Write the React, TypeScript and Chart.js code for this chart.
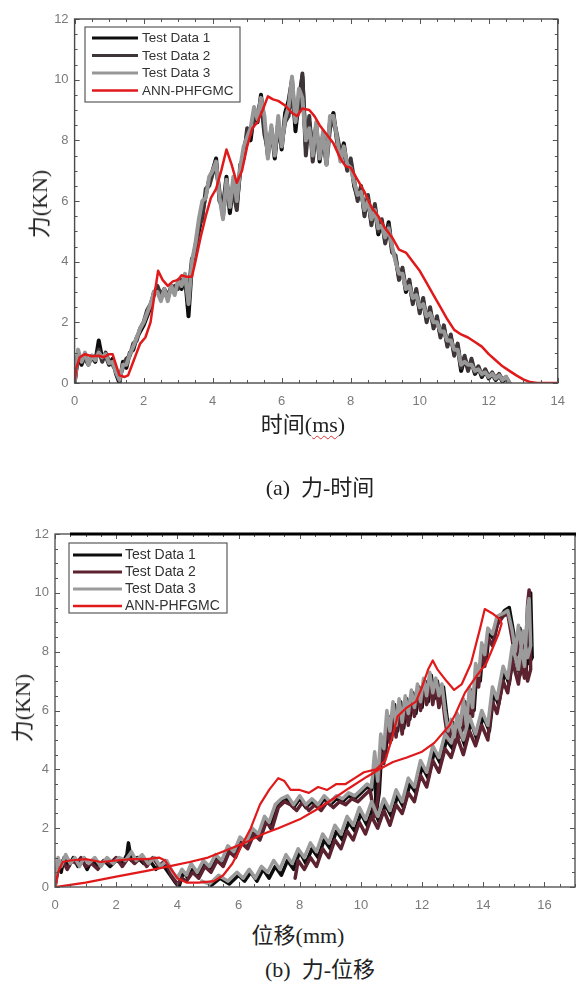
import React, { useEffect, useRef } from "react";
import { Chart, registerables } from "chart.js";

Chart.register(...registerables);

// ---------- (a) force vs time ----------
const TIME_MS = [
  0, 0.1, 0.2, 0.3, 0.4, 0.5, 0.6, 0.7, 0.8, 0.9,
  1.0, 1.1, 1.2, 1.3, 1.4, 1.5, 1.6, 1.7, 1.8, 1.9,
  2.0, 2.1, 2.2, 2.3, 2.4, 2.5, 2.6, 2.7, 2.8, 2.9,
  3.0, 3.1, 3.2, 3.3, 3.4, 3.5, 3.6, 3.7, 3.8, 3.9,
  4.0, 4.1, 4.2, 4.3, 4.4, 4.5, 4.6, 4.7, 4.8, 4.9,
  5.0, 5.1, 5.2, 5.3, 5.4, 5.5, 5.6, 5.7, 5.8, 5.9,
  6.0, 6.1, 6.2, 6.3, 6.4, 6.5, 6.6, 6.7, 6.8, 6.9,
  7.0, 7.1, 7.2, 7.3, 7.4, 7.5, 7.6, 7.7, 7.8, 7.9,
  8.0, 8.1, 8.2, 8.3, 8.4, 8.5, 8.6, 8.7, 8.8, 8.9,
  9.0, 9.1, 9.2, 9.3, 9.4, 9.5, 9.6, 9.7, 9.8, 9.9,
  10.0, 10.1, 10.2, 10.3, 10.4, 10.5, 10.6, 10.7, 10.8, 10.9,
  11.0, 11.1, 11.2, 11.3, 11.4, 11.5, 11.6, 11.7, 11.8, 11.9,
  12.0, 12.1, 12.2, 12.3, 12.4, 12.5, 12.6,
];

const FT_TEST1 = [
  0, 0.9, 0.6, 0.9, 0.7, 0.85, 0.7, 1.4, 0.8, 0.9,
  0.6, 0.8, 0.3, 0.0, 0.7, 0.5, 1.0, 1.1, 1.5, 1.7,
  1.9, 2.2, 2.5, 3.0, 3.1, 2.8, 3.0, 2.8, 3.2, 3.0,
  3.3, 3.1, 3.5, 2.2, 3.9, 4.5, 5.0, 5.6, 6.2, 6.7,
  7.0, 7.4, 6.0, 5.8, 6.8, 5.6, 6.6, 5.9, 7.0, 7.6,
  8.2, 8.0, 8.9, 8.6, 9.5, 8.5, 7.5, 8.4, 7.4, 8.6,
  7.7, 8.9, 9.3, 10.0, 8.3, 9.4, 10.1, 7.8, 8.6, 7.6,
  8.5, 7.3, 8.2, 7.4, 8.6, 8.9, 8.0, 7.4, 7.9, 7.1,
  7.3, 6.5, 6.1, 6.4, 5.6, 6.1, 5.3, 5.8, 4.9, 5.3,
  4.7, 5.3, 4.4, 4.1, 3.5, 3.7, 3.0, 3.3, 2.7, 3.0,
  2.4, 2.7, 2.1, 2.4, 1.9, 2.1, 1.6, 1.8, 1.3, 1.5,
  1.0, 1.2, 0.4, 0.8, 0.5, 0.7, 0.3, 0.5, 0.2, 0.4,
  0.15, 0.3, 0.1, 0.25, 0.05, 0.15, 0,
];

const FT_TEST2 = [
  0, 1.0, 0.7, 0.8, 0.6, 0.9, 0.8, 1.1, 0.7, 1.0,
  0.7, 0.6, 0.4, 0.2, 0.5, 0.8, 0.9, 1.3, 1.4, 1.8,
  2.0, 2.4, 2.6, 2.9, 3.2, 2.9, 3.1, 2.9, 3.1, 3.2,
  3.1, 3.4, 3.3, 3.0, 4.1, 4.3, 5.2, 5.4, 6.4, 6.5,
  6.9, 7.2, 6.3, 5.5, 6.5, 5.9, 6.3, 5.7, 7.2, 7.4,
  8.4, 8.2, 8.7, 8.9, 9.3, 8.2, 7.7, 8.2, 7.6, 8.4,
  7.9, 8.6, 8.8, 9.6, 8.6, 9.0, 10.2, 7.5, 8.8, 7.3,
  8.3, 7.6, 8.0, 7.2, 8.4, 8.7, 8.2, 7.6, 7.7, 7.0,
  7.4, 6.7, 6.0, 6.5, 5.5, 6.2, 5.2, 5.9, 5.0, 5.4,
  4.6, 5.2, 4.3, 4.2, 3.4, 3.8, 3.1, 3.4, 2.6, 3.1,
  2.3, 2.8, 2.0, 2.5, 1.8, 2.2, 1.5, 1.9, 1.2, 1.6,
  0.9, 1.3, 0.5, 0.9, 0.4, 0.8, 0.35, 0.55, 0.25, 0.45,
  0.2, 0.35, 0.15, 0.3, 0.1, 0.2, 0,
];

const FT_TEST3 = [
  0, 1.1, 0.7, 1.0, 0.6, 0.9, 0.75, 1.0, 0.85, 0.95,
  0.65, 0.7, 0.35, 0.1, 0.6, 0.6, 0.95, 1.2, 1.5, 1.8,
  2.0, 2.3, 2.6, 3.0, 3.0, 2.7, 3.1, 2.7, 3.2, 2.9,
  3.4, 3.2, 3.6, 2.6, 4.0, 4.6, 5.4, 6.0, 6.1, 6.8,
  7.0, 7.3, 6.1, 5.4, 6.7, 5.8, 6.8, 6.0, 7.1, 7.8,
  8.1, 8.4, 9.1, 8.7, 9.4, 8.8, 7.4, 8.5, 7.5, 8.8,
  7.8, 8.7, 9.1, 10.1, 8.6, 9.7, 9.4, 8.0, 8.4, 7.5,
  8.6, 7.4, 8.3, 7.2, 8.8, 8.8, 8.1, 7.3, 7.8, 7.2,
  7.1, 6.6, 6.2, 6.3, 5.7, 6.0, 5.4, 5.7, 5.1, 5.2,
  4.8, 5.1, 4.5, 4.0, 3.6, 3.6, 3.1, 3.2, 2.8, 2.9,
  2.5, 2.6, 2.2, 2.3, 2.0, 2.0, 1.7, 1.7, 1.4, 1.4,
  1.1, 1.1, 0.6, 0.7, 0.6, 0.6, 0.4, 0.45, 0.3, 0.35,
  0.2, 0.3, 0.15, 0.25, 0.1, 0.2, 0,
];

const FT_ANN: [number, number][] = [
  [0, 0], [0.05, 0.5], [0.15, 0.85], [0.3, 0.95], [0.5, 0.88], [0.7, 0.9], [0.85, 0.85],
  [1.0, 0.95], [1.1, 0.95], [1.2, 0.6], [1.3, 0.25], [1.45, 0.2], [1.55, 0.25], [1.65, 0.55],
  [1.8, 1.0], [1.9, 1.3], [2.05, 1.5], [2.2, 2.0], [2.3, 2.8], [2.42, 3.7], [2.55, 3.4],
  [2.7, 3.2], [2.85, 3.35], [3.0, 3.4], [3.1, 3.55], [3.25, 3.5], [3.4, 3.5], [3.5, 4.0],
  [3.65, 4.8], [3.8, 5.5], [3.95, 6.1], [4.1, 6.4], [4.25, 7.0], [4.4, 7.7], [4.55, 7.2],
  [4.7, 6.6], [4.85, 7.0], [5.0, 7.8], [5.15, 8.4], [5.3, 8.6], [5.45, 9.0], [5.6, 9.45],
  [5.75, 9.35], [5.9, 9.3], [6.1, 9.15], [6.3, 8.9], [6.45, 8.8], [6.6, 9.05], [6.8, 9.0],
  [6.95, 8.8], [7.1, 8.5], [7.3, 8.2], [7.5, 7.9], [7.7, 7.4], [7.85, 7.15], [8.0, 7.1],
  [8.2, 6.7], [8.4, 6.3], [8.6, 5.8], [8.8, 5.5], [9.0, 5.1], [9.2, 4.8], [9.4, 4.4],
  [9.6, 4.3], [9.8, 4.0], [10.0, 3.7], [10.2, 3.3], [10.4, 2.9], [10.6, 2.5], [10.8, 2.1],
  [11.0, 1.75], [11.2, 1.6], [11.4, 1.5], [11.6, 1.35], [11.8, 1.2], [12.0, 0.95], [12.2, 0.75],
  [12.4, 0.55], [12.6, 0.4], [12.8, 0.25], [13.0, 0.12], [13.2, 0.03], [13.4, 0], [14, 0],
];

// ---------- (b) force vs displacement ----------
const FD_TEST1: [number, number][] = [
  [0, 0], [0.1, 0.8], [0.2, 0.5], [0.3, 1.0], [0.45, 0.7], [0.6, 1.0], [0.75, 0.7], [0.9, 0.9],
  [1.05, 0.6], [1.2, 0.9], [1.4, 0.7], [1.6, 0.9], [1.8, 0.7], [2.0, 0.9], [2.2, 0.8], [2.35, 1.1],
  [2.4, 1.5], [2.5, 0.9], [2.7, 1.0], [2.9, 0.8], [3.1, 0.9], [3.3, 0.6], [3.5, 0.8], [3.7, 0.5],
  [3.9, 0.2], [4.05, 0.0], [4.2, 0.5], [4.35, 0.3], [4.5, 0.6], [4.7, 0.4], [4.9, 0.8], [5.1, 0.6],
  [5.3, 1.0], [5.5, 0.8], [5.7, 1.3], [5.9, 1.1], [6.1, 1.6], [6.3, 1.4], [6.5, 1.9], [6.7, 1.7],
  [6.9, 2.3], [7.05, 2.0], [7.2, 2.6], [7.4, 2.9], [7.6, 3.0], [7.8, 2.7], [8.0, 3.0], [8.2, 2.7],
  [8.4, 2.9], [8.6, 2.7], [8.8, 3.0], [9.0, 2.8], [9.2, 3.0], [9.4, 2.9], [9.6, 3.1], [9.8, 3.0],
  [10.0, 3.2], [10.2, 3.4], [10.35, 3.3], [10.45, 4.3], [10.5, 2.5], [10.6, 3.2], [10.7, 5.0],
  [10.8, 4.4], [10.9, 5.8], [11.0, 5.0], [11.1, 6.2], [11.2, 5.3], [11.3, 6.3], [11.4, 5.4],
  [11.5, 6.4], [11.6, 5.7], [11.7, 6.6], [11.8, 5.9], [11.9, 6.8], [12.0, 6.1], [12.1, 7.0],
  [12.2, 6.3], [12.3, 7.2], [12.4, 6.4], [12.5, 7.0], [12.6, 6.3], [12.7, 6.8], [12.8, 5.9],
  [12.9, 5.1], [13.0, 5.6], [13.1, 4.9], [13.2, 5.8], [13.3, 5.3], [13.4, 6.3], [13.5, 5.3],
  [13.6, 6.7], [13.7, 6.0], [13.8, 7.5], [13.9, 7.0], [14.0, 8.2], [14.1, 7.7], [14.2, 8.7],
  [14.35, 8.4], [14.5, 9.1], [14.7, 9.4], [14.85, 9.5], [15.0, 8.6], [15.1, 7.9], [15.2, 8.8],
  [15.3, 7.9], [15.4, 7.3], [15.5, 9.8], [15.55, 10.0], [15.6, 7.8],
  [15.5, 7.6], [15.35, 8.5], [15.2, 7.2], [15.0, 8.0], [14.85, 6.9], [14.7, 7.3], [14.5, 6.2],
  [14.35, 6.6], [14.2, 5.3], [14.0, 5.8], [13.8, 5.0], [13.6, 5.6], [13.4, 4.8], [13.2, 5.4],
  [13.0, 4.7], [12.8, 5.0], [12.6, 4.2], [12.4, 4.6], [12.2, 3.7], [12.0, 4.1], [11.8, 3.2],
  [11.6, 3.5], [11.4, 2.7], [11.2, 3.1], [11.0, 2.4], [10.8, 2.8], [10.6, 2.2], [10.4, 2.7],
  [10.2, 2.1], [10.0, 2.5], [9.8, 1.9], [9.6, 2.2], [9.4, 1.6], [9.2, 1.9], [9.0, 1.3],
  [8.8, 1.6], [8.6, 1.0], [8.4, 1.3], [8.2, 0.8], [8.0, 1.2], [7.8, 0.6], [7.6, 0.9], [7.4, 0.4],
  [7.2, 0.7], [7.0, 0.3], [6.8, 0.6], [6.6, 0.2], [6.4, 0.5], [6.2, 0.2], [6.0, 0.4], [5.7, 0.1],
  [5.4, 0.3], [5.1, 0.05],
];

const FD_TEST2: [number, number][] = [
  [0, 0], [0.1, 0.6], [0.25, 0.9], [0.4, 0.6], [0.55, 0.9], [0.7, 0.8], [0.85, 1.0], [1.0, 0.7],
  [1.2, 0.8], [1.4, 0.6], [1.6, 0.9], [1.8, 0.8], [2.0, 1.0], [2.2, 0.7], [2.4, 1.0], [2.6, 0.8],
  [2.8, 1.0], [3.0, 0.7], [3.2, 1.0], [3.4, 0.7], [3.6, 0.9], [3.8, 0.4], [4.0, 0.1], [4.15, 0.3],
  [4.3, 0.2], [4.5, 0.5], [4.7, 0.3], [4.9, 0.7], [5.1, 0.5], [5.3, 0.9], [5.5, 0.7], [5.7, 1.2],
  [5.9, 1.0], [6.1, 1.5], [6.3, 1.3], [6.5, 1.8], [6.7, 1.6], [6.9, 2.2], [7.1, 2.0], [7.3, 2.7],
  [7.5, 2.9], [7.7, 2.8], [7.9, 2.6], [8.1, 2.9], [8.3, 2.6], [8.5, 2.8], [8.7, 2.6], [8.9, 2.9],
  [9.1, 2.7], [9.3, 2.9], [9.5, 2.8], [9.7, 3.0], [9.9, 2.9], [10.1, 3.1], [10.3, 3.3],
  [10.45, 2.4], [10.55, 3.0], [10.65, 4.6], [10.75, 4.2], [10.85, 5.5], [10.95, 4.9], [11.05, 6.0],
  [11.15, 5.1], [11.25, 6.1], [11.35, 5.2], [11.45, 6.2], [11.55, 5.5], [11.65, 6.4], [11.75, 5.8],
  [11.85, 6.6], [11.95, 6.0], [12.05, 6.9], [12.15, 6.2], [12.25, 7.0], [12.35, 6.2], [12.45, 6.9],
  [12.55, 6.1], [12.65, 6.6], [12.75, 5.7], [12.85, 5.0], [12.95, 5.4], [13.05, 4.8], [13.15, 5.6],
  [13.25, 5.1], [13.35, 6.1], [13.45, 5.1], [13.55, 6.5], [13.65, 5.8], [13.75, 7.2], [13.85, 6.8],
  [13.95, 8.0], [14.05, 7.5], [14.15, 8.5], [14.3, 8.2], [14.45, 8.9], [14.65, 9.2], [14.8, 9.3],
  [14.95, 8.4], [15.05, 7.7], [15.15, 8.6], [15.25, 7.7], [15.35, 7.1], [15.45, 9.6], [15.5, 10.1],
  [15.55, 7.4],
  [15.45, 7.0], [15.3, 8.2], [15.15, 6.9], [14.95, 7.7], [14.8, 6.6], [14.65, 7.0], [14.45, 5.9],
  [14.3, 6.3], [14.15, 5.0], [13.95, 5.5], [13.75, 4.8], [13.55, 5.3], [13.35, 4.5], [13.15, 5.1],
  [12.95, 4.4], [12.75, 4.7], [12.55, 3.9], [12.35, 4.3], [12.15, 3.4], [11.95, 3.8], [11.75, 2.9],
  [11.55, 3.2], [11.35, 2.5], [11.15, 2.8], [10.95, 2.1], [10.75, 2.6], [10.55, 2.0], [10.35, 2.4],
  [10.15, 1.8], [9.95, 2.2], [9.75, 1.6], [9.55, 1.9], [9.35, 1.3], [9.15, 1.6], [8.95, 1.0],
  [8.75, 1.3], [8.55, 0.7], [8.35, 1.0], [8.15, 0.6], [7.95, 0.9], [7.85, 0.3],
];

const FD_TEST3: [number, number][] = [
  [0, 0], [0.1, 1.0], [0.2, 0.7], [0.35, 1.1], [0.5, 0.8], [0.65, 1.0], [0.8, 0.7], [0.95, 1.0],
  [1.1, 0.8], [1.3, 1.0], [1.5, 0.7], [1.7, 1.0], [1.9, 0.8], [2.1, 1.0], [2.3, 0.9], [2.5, 1.2],
  [2.65, 0.9], [2.85, 1.1], [3.05, 0.8], [3.25, 1.0], [3.45, 0.7], [3.65, 0.9], [3.85, 0.5],
  [4.0, 0.3], [4.15, 0.6], [4.3, 0.4], [4.45, 0.8], [4.65, 0.5], [4.85, 0.9], [5.05, 0.7],
  [5.25, 1.1], [5.45, 0.9], [5.65, 1.4], [5.85, 1.2], [6.05, 1.7], [6.25, 1.5], [6.45, 2.0],
  [6.65, 1.8], [6.85, 2.4], [7.0, 2.2], [7.2, 2.8], [7.4, 3.0], [7.6, 3.1], [7.8, 2.8], [8.0, 3.1],
  [8.2, 2.8], [8.4, 3.0], [8.6, 2.8], [8.8, 3.1], [9.0, 2.9], [9.2, 3.1], [9.4, 3.0], [9.6, 3.2],
  [9.8, 3.1], [10.0, 3.3], [10.2, 3.5], [10.35, 3.4], [10.45, 4.6], [10.55, 3.6], [10.65, 5.2],
  [10.75, 4.7], [10.85, 6.0], [10.95, 5.3], [11.05, 6.3], [11.15, 5.5], [11.25, 6.4], [11.35, 5.6],
  [11.45, 6.5], [11.55, 5.9], [11.65, 6.7], [11.75, 6.1], [11.85, 6.9], [11.95, 6.3], [12.05, 7.1],
  [12.15, 6.5], [12.25, 7.3], [12.35, 6.6], [12.45, 7.1], [12.55, 6.5], [12.65, 6.9], [12.75, 6.0],
  [12.85, 5.3], [12.95, 5.7], [13.05, 5.1], [13.15, 5.9], [13.25, 5.5], [13.35, 6.4], [13.45, 5.5],
  [13.55, 6.8], [13.65, 6.1], [13.75, 7.6], [13.85, 7.2], [13.95, 8.3], [14.05, 7.9], [14.15, 8.8],
  [14.3, 8.6], [14.45, 9.2], [14.65, 9.3], [14.8, 9.4], [14.95, 8.7], [15.05, 8.0], [15.15, 8.9],
  [15.25, 8.1], [15.35, 7.5], [15.45, 9.5], [15.5, 9.8], [15.55, 8.2],
  [15.45, 7.8], [15.3, 8.7], [15.15, 7.4], [14.95, 8.2], [14.8, 7.1], [14.65, 7.5], [14.45, 6.4],
  [14.3, 6.8], [14.15, 5.5], [13.95, 6.0], [13.75, 5.2], [13.55, 5.8], [13.35, 5.0], [13.15, 5.6],
  [12.95, 4.9], [12.75, 5.2], [12.55, 4.4], [12.35, 4.8], [12.15, 3.9], [11.95, 4.3], [11.75, 3.4],
  [11.55, 3.7], [11.35, 2.9], [11.15, 3.3], [10.95, 2.6], [10.75, 3.0], [10.55, 2.4], [10.35, 2.9],
  [10.15, 2.3], [9.95, 2.7], [9.75, 2.1], [9.55, 2.4], [9.35, 1.8], [9.15, 2.1], [8.95, 1.5],
  [8.75, 1.8], [8.55, 1.2], [8.35, 1.5], [8.15, 1.0], [7.95, 1.3], [7.75, 0.8], [7.55, 1.1],
  [7.35, 0.6], [7.15, 0.9], [6.95, 0.5], [6.75, 0.7], [6.55, 0.3], [6.35, 0.6], [6.15, 0.3],
  [5.95, 0.5], [5.65, 0.2], [5.35, 0.4], [5.05, 0.1], [4.8, 0.2],
];

const FD_ANN: [number, number][] = [
  [0, 0], [0.1, 0.5], [0.25, 0.85], [0.5, 0.9], [1.0, 0.95], [1.5, 0.85], [2.0, 0.9], [2.5, 0.95],
  [3.0, 0.95], [3.4, 1.0], [3.6, 0.9], [3.8, 0.6], [4.0, 0.3], [4.3, 0.15], [4.7, 0.15], [5.2, 0.2],
  [5.5, 0.4], [5.8, 0.8], [6.1, 1.4], [6.4, 2.0], [6.7, 2.8], [7.0, 3.3], [7.3, 3.7], [7.5, 3.6],
  [7.7, 3.3], [8.0, 3.3], [8.3, 3.2], [8.6, 3.4], [8.9, 3.3], [9.2, 3.5], [9.5, 3.5], [9.8, 3.7],
  [10.1, 3.9], [10.5, 4.0], [10.8, 4.3], [11.0, 5.0], [11.2, 5.8], [11.5, 6.1], [11.8, 6.3],
  [12.0, 6.8], [12.2, 7.4], [12.35, 7.7], [12.5, 7.4], [12.8, 7.0], [13.05, 6.7], [13.3, 6.9],
  [13.6, 7.6], [13.9, 8.8], [14.05, 9.45], [14.3, 9.3], [14.55, 9.1], [14.6, 8.95],
  [14.5, 8.6], [14.3, 8.1], [14.1, 7.6], [13.8, 7.2], [13.4, 6.6], [13.1, 5.9], [12.9, 5.5],
  [12.4, 4.9], [12.0, 4.6], [11.5, 4.4], [11.05, 4.25], [10.6, 4.0], [10.2, 3.75], [9.6, 3.35],
  [9.1, 3.0], [8.5, 2.6], [8.0, 2.3], [7.3, 2.0], [6.8, 1.8], [6.2, 1.5], [5.6, 1.25], [5.0, 1.0],
  [4.4, 0.85], [3.8, 0.72], [3.0, 0.55], [2.0, 0.35], [1.0, 0.15], [0.5, 0.07], [0, 0],
];

const LEGEND_LABELS = ["Test Data 1", "Test Data 2", "Test Data 3", "ANN-PHFGMC"];
const COLORS_A = ["#0d0d0d", "#3d3537", "#979797", "#e0191b"];
const COLORS_B = ["#0d0d0d", "#5c2230", "#9b9b9b", "#e0191b"];

const decoPlugin = {
  id: "deco",
  afterDraw(chart: any, _args: any, o: any) {
    const { ctx, chartArea: a, scales } = chart;
    const xs = scales.x;
    const ys = scales.y;
    ctx.save();
    // inward tick marks on all four sides
    ctx.strokeStyle = o.tickColor;
    ctx.lineWidth = 1;
    ctx.beginPath();
    const isMajor = (v: number, step: number) => Math.abs(v / step - Math.round(v / step)) < 1e-6;
    for (let i = 0; i * o.minor <= xs.max + 1e-9; i++) {
      const v = i * o.minor;
      const len = isMajor(v, o.major) ? 5 : 3;
      const p = Math.round(xs.getPixelForValue(v)) + 0.5;
      ctx.moveTo(p, a.bottom);
      ctx.lineTo(p, a.bottom - len);
      ctx.moveTo(p, a.top);
      ctx.lineTo(p, a.top + len);
    }
    for (let i = 0; i * o.minor <= ys.max + 1e-9; i++) {
      const v = i * o.minor;
      const len = isMajor(v, o.major) ? 5 : 3;
      const p = Math.round(ys.getPixelForValue(v)) + 0.5;
      ctx.moveTo(a.left, p);
      ctx.lineTo(a.left + len, p);
      ctx.moveTo(a.right, p);
      ctx.lineTo(a.right - len, p);
    }
    ctx.stroke();
    // frame
    ctx.strokeStyle = o.frameColor;
    ctx.lineWidth = o.frameWidth;
    ctx.strokeRect(a.left, a.top, a.right - a.left, a.bottom - a.top);
    if (o.topLineFrom != null) {
      ctx.strokeStyle = "#000";
      ctx.lineWidth = 3;
      ctx.beginPath();
      ctx.moveTo(o.topLineFrom, a.top);
      ctx.lineTo(chart.width, a.top);
      ctx.stroke();
    }
    // legend box
    const L = o.legend;
    const bx = a.left + L.dx;
    const by = a.top + L.dy;
    ctx.fillStyle = "#fff";
    ctx.fillRect(bx, by, L.w, L.h);
    ctx.strokeStyle = "#5a5a5a";
    ctx.lineWidth = 1.2;
    ctx.strokeRect(bx, by, L.w, L.h);
    ctx.font = L.font;
    ctx.textBaseline = "middle";
    chart.data.datasets.forEach((ds: any, i: number) => {
      const y = by + L.rows[i];
      ctx.strokeStyle = ds.borderColor;
      ctx.lineWidth = i === 3 ? 2.5 : 3;
      ctx.beginPath();
      ctx.moveTo(bx + L.lx0, y);
      ctx.lineTo(bx + L.lx1, y);
      ctx.stroke();
      ctx.fillStyle = "#333";
      ctx.fillText(ds.label, bx + L.tx, y + 0.5);
    });
    ctx.restore();
  },
};

const tickFont = { family: '"Liberation Sans", Arial, sans-serif', size: 13 };

function makeConfig(datasets: any[], xMax: number, yW: number, xH: number, pad: any, deco: any) {
  return {
    type: "line",
    data: { datasets },
    options: {
      animation: false,
      responsive: false,
      parsing: true,
      layout: { padding: pad },
      elements: { point: { radius: 0 }, line: { tension: 0 } },
      plugins: { legend: { display: false }, tooltip: { enabled: false }, deco },
      scales: {
        x: {
          type: "linear",
          min: 0,
          max: xMax,
          grid: { display: false, drawTicks: false },
          border: { display: false },
          ticks: { stepSize: 2, includeBounds: false, maxRotation: 0, padding: 11, color: "#7a7a7a", font: tickFont },
          afterFit: (s: any) => { s.height = xH; },
        },
        y: {
          type: "linear",
          min: 0,
          max: 12,
          grid: { display: false, drawTicks: false },
          border: { display: false },
          ticks: { stepSize: 2, padding: 6, color: "#7a7a7a", font: tickFont },
          afterFit: (s: any) => { s.width = yW; },
        },
      },
    },
    plugins: [decoPlugin],
  };
}

function mkDs(label: string, data: any[], color: string, width: number, order: number) {
  return {
    label,
    data,
    borderColor: color,
    backgroundColor: color,
    borderWidth: width,
    pointRadius: 0,
    fill: false,
    order,
    borderJoinStyle: "round",
    borderCapStyle: "round",
  };
}

const serif = '"Liberation Serif", "Times New Roman", "Noto Sans CJK SC", serif';

function Label({ x, y, size, children, rotate }: any) {
  return (
    <div
      style={{
        position: "absolute",
        left: x,
        top: y,
        transform: `translate(-50%, -50%)${rotate ? " rotate(-90deg)" : ""}`,
        whiteSpace: "nowrap",
        fontFamily: serif,
        fontSize: size,
        lineHeight: 1,
        color: "#222",
      }}
    >
      {children}
    </div>
  );
}

export default function App() {
  const topRef = useRef<HTMLCanvasElement | null>(null);
  const botRef = useRef<HTMLCanvasElement | null>(null);

  useEffect(() => {
    const toPts = (ys: number[]) => ys.map((v, i) => ({ x: TIME_MS[i], y: v }));
    const pairs = (arr: [number, number][]) => arr.map(([x, y]) => ({ x, y }));

    const topDs = [
      mkDs(LEGEND_LABELS[0], toPts(FT_TEST1), COLORS_A[0], 4, 3),
      mkDs(LEGEND_LABELS[1], toPts(FT_TEST2), COLORS_A[1], 4, 2),
      mkDs(LEGEND_LABELS[2], toPts(FT_TEST3), COLORS_A[2], 4, 1),
      mkDs(LEGEND_LABELS[3], pairs(FT_ANN), COLORS_A[3], 2.5, 0),
    ];
    const botDs = [
      mkDs(LEGEND_LABELS[0], pairs(FD_TEST1), COLORS_B[0], 3.5, 3),
      mkDs(LEGEND_LABELS[1], pairs(FD_TEST2), COLORS_B[1], 3.5, 2),
      mkDs(LEGEND_LABELS[2], pairs(FD_TEST3), COLORS_B[2], 3.5, 1),
      mkDs(LEGEND_LABELS[3], pairs(FD_ANN), COLORS_B[3], 2.2, 0),
    ];

    const top = new Chart(
      topRef.current as HTMLCanvasElement,
      makeConfig(topDs, 14, 74.6, 37, { top: 19, right: 8, left: 0, bottom: 0 }, {
        tickColor: "#555",
        frameColor: "#4a4a4a",
        frameWidth: 1.4,
        minor: 0.5,
        major: 2,
        topLineFrom: null,
        legend: {
          dx: 10.4, dy: 8, w: 155, h: 75,
          rows: [11, 28.5, 46, 63.5],
          lx0: 7, lx1: 53, tx: 57,
          font: '13.5px "Liberation Sans", Arial, sans-serif',
        },
      }) as any
    );
    const bot = new Chart(
      botRef.current as HTMLCanvasElement,
      makeConfig(botDs, 17, 55, 33, { top: 34, right: 1, left: 0, bottom: 0 }, {
        tickColor: "#555",
        frameColor: "#555",
        frameWidth: 1.4,
        minor: 0.5,
        major: 2,
        topLineFrom: 70,
        legend: {
          dx: 14, dy: 9, w: 158, h: 70,
          rows: [12, 29, 46, 63],
          lx0: 4, lx1: 53, tx: 56,
          font: '14px "Liberation Sans", Arial, sans-serif',
        },
      }) as any
    );
    return () => {
      top.destroy();
      bot.destroy();
    };
  }, []);

  return (
    <div
      style={{
        position: "absolute",
        left: 0,
        top: 0,
        width: 576,
        height: 987,
        background: "#fff",
        overflow: "hidden",
      }}
    >
      <canvas ref={topRef} width={576} height={420} style={{ position: "absolute", left: 0, top: 0 }} />
      <canvas ref={botRef} width={576} height={420} style={{ position: "absolute", left: 0, top: 500 }} />
      <Label x={40} y={204} size={22} rotate>力(KN)</Label>
      <Label x={303} y={425} size={22}>
        时间(
        <span
          style={{
            textDecorationLine: "underline",
            textDecorationStyle: "wavy",
            textDecorationColor: "#e03030",
            textDecorationThickness: "1px",
            textUnderlineOffset: "3px",
          }}
        >
          ms
        </span>
        )
      </Label>
      <Label x={320} y={488} size={22}>(a)&nbsp;&nbsp;力-时间</Label>
      <Label x={23} y={708} size={22} rotate>力(KN)</Label>
      <Label x={298} y={936} size={22}>位移(mm)</Label>
      <Label x={320} y={970} size={22}>(b)&nbsp;&nbsp;力-位移</Label>
    </div>
  );
}
